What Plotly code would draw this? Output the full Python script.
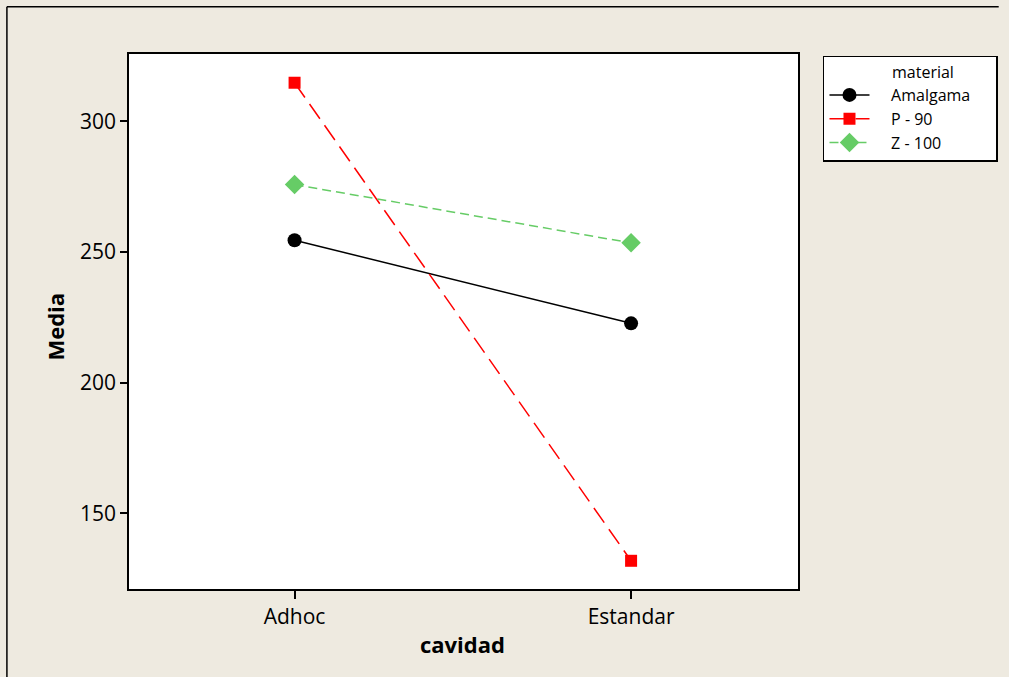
import plotly.graph_objects as go

categories = ["Adhoc", "Estandar"]
amalgama = [254.5, 222.7]
p90 = [314.8, 131.8]
z100 = [275.8, 253.5]
y_ticks = [150, 200, 250, 300]
series_names = ["Amalgama", "P - 90", "Z - 100"]
legend_title = "material"

NB = "\u00a0"
def pad(name):
    return NB * 4 + name + NB * 5

fig = go.Figure()
fig.add_trace(go.Scatter(x=categories, y=amalgama, name=pad(series_names[0]), mode="lines+markers",
                         line=dict(color="black", width=1.5),
                         marker=dict(symbol="circle", size=14, color="black")))
fig.add_trace(go.Scatter(x=categories, y=p90, name=pad(series_names[1]), mode="lines+markers",
                         line=dict(color="#FF0000", width=1.5, dash="18px,8px"),
                         marker=dict(symbol="square", size=12, color="#FF0000")))
fig.add_trace(go.Scatter(x=categories, y=z100, name=pad(series_names[2]), mode="lines+markers",
                         line=dict(color="#66CC66", width=1.5, dash="9px,5px"),
                         marker=dict(symbol="diamond", size=15, color="#66CC66")))

font_family = "Open Sans, Noto Sans, DejaVu Sans"
fig.update_layout(
    width=1009, height=677,
    margin=dict(l=129, r=210, t=54, b=88),
    paper_bgcolor="#EEEAE0",
    plot_bgcolor="white",
    font=dict(family=font_family, color="black"),
    legend=dict(
        x=1.0358, y=0.9968, xanchor="left", yanchor="top",
        bgcolor="white", bordercolor="black", borderwidth=1.5,
        font=dict(size=16, family=font_family),
        title=dict(text=NB * 6 + legend_title, side="top center", font=dict(size=16)),
        tracegroupgap=0, itemwidth=40,
    ),
    xaxis=dict(
        type="category", range=[-0.492, 1.496],
        showline=True, mirror=True, linecolor="black", linewidth=1.5,
        ticks="outside", ticklen=8, tickcolor="black", tickwidth=1.5,
        showgrid=False, zeroline=False,
        tickfont=dict(size=21),
    ),
    yaxis=dict(
        range=[121.0, 325.8], tickvals=y_ticks,
        showline=True, mirror=True, linecolor="black", linewidth=1.5,
        ticks="outside", ticklen=7, tickcolor="black", tickwidth=1.5,
        showgrid=False, zeroline=False,
        tickfont=dict(size=21),
    ),
    shapes=[
        dict(type="line", xref="paper", yref="paper",
             x0=-0.1825, y0=-0.17, x1=-0.1825, y1=1.0885,
             line=dict(color="black", width=1.5), layer="below"),
        dict(type="line", xref="paper", yref="paper",
             x0=-0.1825, y0=1.0885, x1=1.30, y1=1.0885,
             line=dict(color="black", width=1.5), layer="below"),
    ],
    annotations=[
        dict(text="<b>cavidad</b>", xref="paper", yref="paper", x=0.498, y=-0.103,
             showarrow=False, font=dict(size=22), xanchor="center", yanchor="middle"),
        dict(text="<b>Media</b>", xref="paper", yref="paper", x=-0.111, y=0.49,
             showarrow=False, font=dict(size=22), textangle=-90,
             xanchor="center", yanchor="middle"),
    ],
)

fig.write_html("out.html")
